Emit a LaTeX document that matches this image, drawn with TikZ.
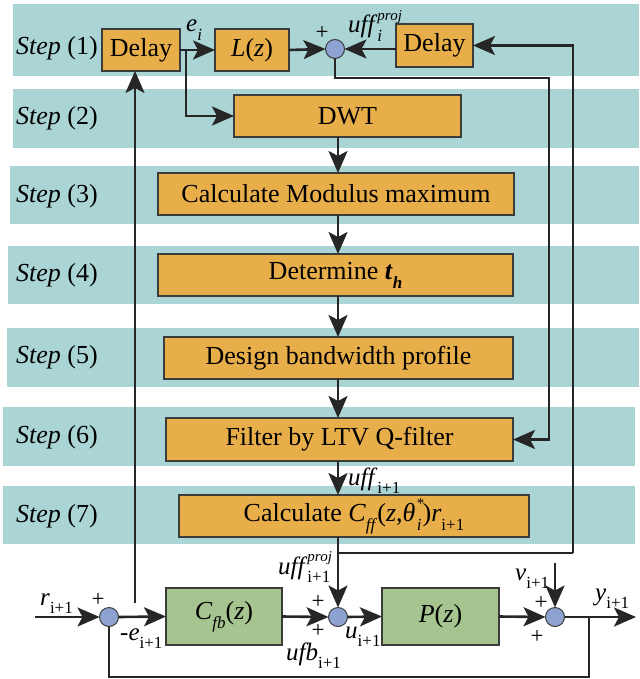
\documentclass[tikz,border=0pt]{standalone}
\usepackage{fontspec}
\setmainfont{Liberation Serif}
\usetikzlibrary{arrows.meta}

\definecolor{bandc}{HTML}{ABD5D5}
\definecolor{orangec}{HTML}{E8AE4A}
\definecolor{greenc}{HTML}{A6C48F}
\definecolor{bluec}{HTML}{8DA2D0}
\definecolor{linec}{HTML}{262626}
\definecolor{edgec}{HTML}{3C3C3C}

% lowered / raised small text for indices
\newcommand\lowtx[1]{\raisebox{-0.35em}{\fontsize{17}{17}\selectfont #1}}
\newcommand\hightx[1]{\raisebox{0.5em}{\fontsize{15}{15}\selectfont #1}}
\newcommand\subsup[2]{\rlap{\hightx{#2}}\lowtx{#1}}

\begin{document}
\begin{tikzpicture}[x=1pt,y=-1pt,
  band/.style={fill=bandc},
  obox/.style={draw=edgec, line width=1.3pt, fill=orangec, inner sep=0pt, outer sep=0pt,
    font=\fontsize{26}{30}\selectfont},
  gbox/.style={obox, fill=greenc},
  sumc/.style={circle, draw=edgec, line width=1pt, fill=bluec, minimum size=19pt,
    inner sep=0pt, outer sep=0pt},
  conn/.style={line width=2.6pt, draw=linec},
  arr/.style={conn, -{Stealth[length=22pt,width=19pt,inset=5pt]}},
  steplbl/.style={anchor=west, inner sep=0pt, font=\fontsize{26}{30}\selectfont},
  sig/.style={anchor=base west, inner sep=0pt, font=\fontsize{25}{28}\selectfont},
  pm/.style={inner sep=0pt, font=\fontsize{23}{23}\selectfont}]

\useasboundingbox (0,0) rectangle (639,679);

% step bands
\fill[band] (13,4) rectangle (639,76);
\fill[band] (13,89) rectangle (639,148);
\fill[band] (10,166) rectangle (639,224);
\fill[band] (8,246) rectangle (639,304);
\fill[band] (7,328) rectangle (639,387);
\fill[band] (3,407) rectangle (635,466);
\fill[band] (3,486) rectangle (635,544);

% step labels
\node[steplbl] (st1) at (16,48) {\textit{Step} (1)};
\node[steplbl] (st2) at (16,118) {\textit{Step} (2)};
\node[steplbl] (st3) at (16,196) {\textit{Step} (3)};
\node[steplbl] (st4) at (16,275) {\textit{Step} (4)};
\node[steplbl] (st5) at (16,357) {\textit{Step} (5)};
\node[steplbl] (st6) at (16,437) {\textit{Step} (6)};
\node[steplbl] (st7) at (16,516) {\textit{Step} (7)};

% blocks of the learning update
\node[obox, minimum width=78pt, minimum height=42pt] (delay1) at (141,50) {Delay};
\node[obox, minimum width=74pt, minimum height=42pt] (lz) at (252,50) {\textit{L}(\textit{z})};
\node[sumc] (s1) at (335,49) {};
\node[obox, minimum width=77pt, minimum height=43pt] (delay2) at (434.5,45.5) {Delay};
\node[obox, minimum width=227pt, minimum height=42pt] (dwt) at (347.5,116) {DWT};
\node[obox, minimum width=356pt, minimum height=42pt] (mod) at (336,194) {Calculate Modulus maximum};
\node[obox, minimum width=355pt, minimum height=42pt] (det) at (335.5,275)
  {Determine \textbf{\textit{t}}\lowtx{\textbf{\textit{h}}}};
\node[obox, minimum width=349pt, minimum height=42pt] (bw) at (338.5,358) {Design bandwidth profile};
\node[obox, minimum width=347pt, minimum height=43pt] (filt) at (339.5,439.5) {Filter by LTV Q-filter};
\node[obox, minimum width=350pt, minimum height=42pt] (cff) at (354,516)
  {Calculate \textit{C}\lowtx{\textit{ff}}(\textit{z},\textit{θ}\kern1.5pt\subsup{\textit{i}}{*}\kern1pt)\textit{r}\lowtx{i+1}};

% feedback loop blocks
\node[sumc] (s2) at (109,617) {};
\node[gbox, minimum width=116pt, minimum height=57pt] (cfb) at (224,616.5)
  {\textit{C}\lowtx{\textit{fb}}(\textit{z})};
\node[sumc] (s3) at (338,617) {};
\node[gbox, minimum width=117pt, minimum height=57pt] (pz) at (440.5,616.5) {\textit{P}(\textit{z})};
\node[sumc] (s4) at (555,617) {};

% routing points
\coordinate (fx) at (338,0);
\coordinate (eb) at (186,50);
\coordinate (r1) at (549,78);
\coordinate (b2) at (338,553);
\coordinate (r2) at (573,553);
\coordinate (etap) at (135,603);
\coordinate (rin) at (35,617);
\coordinate (vin) at (555,563);
\coordinate (yout) at (636,617);
\coordinate (fb) at (589,617);
\coordinate (fbl) at (589,677);

% connectors, learning part
\draw[arr] (delay1.east |- eb) -- (lz.west);
\draw[arr] (eb) |- (dwt.west);
\draw[arr] (lz.east) -- (s1.west);
\draw[arr] (delay2.west |- s1) -- (s1.east);
\draw[arr] (s1.south) |- (r1) |- (filt.east);
\draw[arr] (dwt.south -| fx) -- (mod.north -| fx);
\draw[arr] (mod.south -| fx) -- (det.north -| fx);
\draw[arr] (det.south -| fx) -- (bw.north -| fx);
\draw[arr] (bw.south -| fx) -- (filt.north -| fx);
\draw[arr] (filt.south -| fx) -- (cff.north -| fx);
\draw[arr] (cff.south -| fx) -- (s3.north);
\draw[conn] (b2) -- (r2);
\draw[arr] (r2) -- (r2 |- delay2.east) -- (delay2.east);
\draw[arr] (etap) -- (delay1.south -| etap);

% connectors, feedback loop
\draw[arr] (rin) -- (s2.west);
\draw[arr] (s2.east) -- (cfb.west);
\draw[arr] (cfb.east) -- (s3.west);
\draw[arr] (s3.east) -- (pz.west);
\draw[arr] (pz.east) -- (s4.west);
\draw[arr] (s4.east) -- (yout);
\draw[arr] (vin) -- (s4.north);
\draw[conn] (fb) -- (fbl) -| (s2.south);

% signal labels
\node[sig] (lei) at (186,32) {\textit{e}\lowtx{\textit{i}}};
\node[pm] (p1) at (322,33) {+};
\node[sig] (luffp) at (348,33) {\textit{uff}\subsup{\textit{i}}{\textit{proj}}};
\node[sig] (luff) at (348,485) {\textit{uff}\lowtx{i+1}};
\node[sig] (luffp1) at (278,574) {\textit{uff}\subsup{i+1}{\textit{proj}}};
\node[sig] (lr) at (40,605) {\textit{r}\lowtx{i+1}};
\node[pm] (p2) at (98,600) {+};
\node[sig] (le) at (120,640) {-\textit{e}\lowtx{i+1}};
\node[pm] (p3) at (318,602) {+};
\node[pm] (p4) at (318,631) {+};
\node[sig] (lufb) at (286,660) {\textit{ufb}\lowtx{i+1}};
\node[sig] (lu) at (345,638) {\textit{u}\lowtx{i+1}};
\node[sig] (lv) at (515,580) {\textit{v}\lowtx{i+1}};
\node[pm] (p5) at (541,603) {+};
\node[pm] (p6) at (537,637) {+};
\node[sig] (ly) at (595,600) {\textit{y}\lowtx{i+1}};

\end{tikzpicture}
\end{document}
